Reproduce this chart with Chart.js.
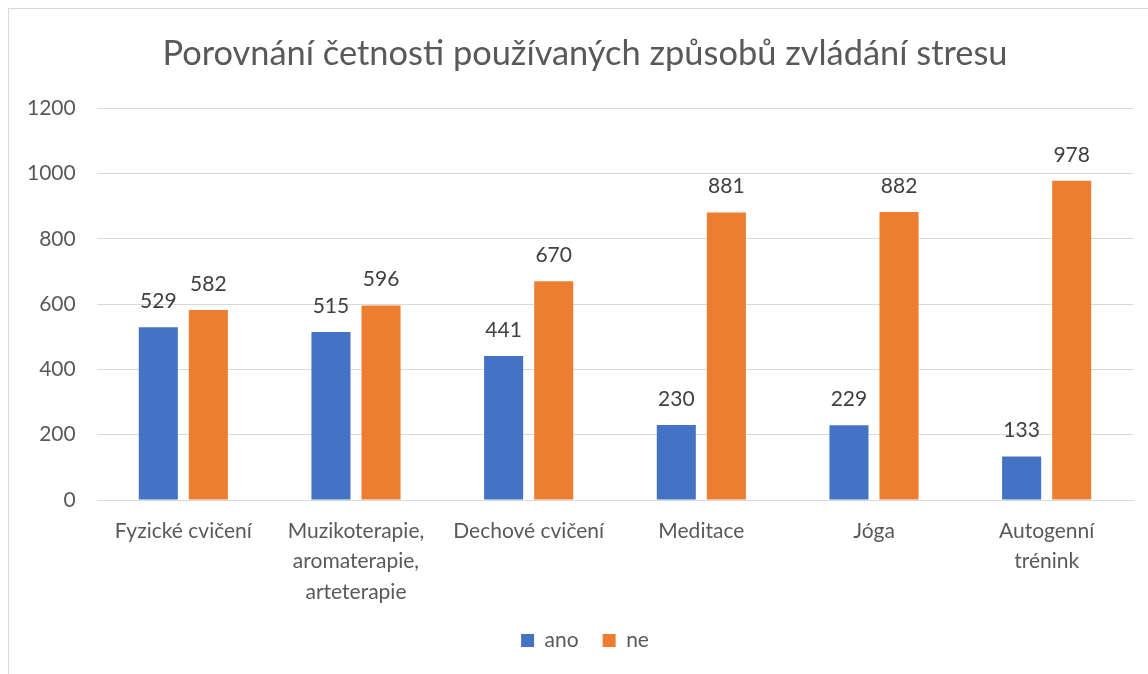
<!DOCTYPE html>
<html>
<head>
<meta charset="utf-8">
<script src="https://cdn.jsdelivr.net/npm/chart.js@4/dist/chart.umd.min.js"></script>
<style>
  html, body { margin: 0; padding: 0; background: #fff; overflow: hidden; }
  #frame {
    position: absolute; left: 8px; top: 8px; width: 1160px; height: 680px;
    border-left: 1px solid #d9d9d9; border-top: 1px solid #d9d9d9;
  }
  #wrap { position: absolute; left: 0; top: 0; width: 1154px; height: 666px; }
</style>
</head>
<body>
<div id="frame">
  <div id="wrap"><canvas id="chart"></canvas></div>
</div>
<script>
const CATEGORIES = [
  "Fyzické cvičení",
  ["Muzikoterapie,", "aromaterapie,", "arteterapie"],
  "Dechové cvičení",
  "Meditace",
  "Jóga",
  ["Autogenní", "trénink"],
];
const ANO = [529, 515, 441, 230, 229, 133];
const NE = [582, 596, 670, 881, 882, 978];
const FONT = "Lato, 'Open Sans', sans-serif";
const TEXT = "#595959";

const valueLabels = {
  id: "valueLabels",
  afterDatasetsDraw(chart) {
    const ctx = chart.ctx;
    ctx.save();
    ctx.font = "21px " + FONT;
    ctx.fillStyle = "#404040";
    ctx.textAlign = "center";
    ctx.textBaseline = "middle";
    chart.data.datasets.forEach((ds, i) => {
      const meta = chart.getDatasetMeta(i);
      meta.data.forEach((bar, j) => {
        ctx.fillText(String(ds.data[j]), bar.x, bar.y - 26);
      });
    });
    ctx.restore();
  },
};

new Chart(document.getElementById("chart"), {
  type: "bar",
  data: {
    labels: CATEGORIES,
    datasets: [
      { label: "ano", data: ANO, backgroundColor: "#4472C4" },
      { label: "ne", data: NE, backgroundColor: "#ED7D31" },
    ],
  },
  options: {
    responsive: true,
    maintainAspectRatio: false,
    animation: false,
    categoryPercentage: 0.58,
    barPercentage: 0.78,
    layout: { padding: { left: 28, right: 30, bottom: 14 } },
    scales: {
      x: {
        grid: { display: false },
        border: { display: true, color: "#d9d9d9", width: 1 },
        ticks: {
          color: TEXT,
          font: { family: FONT, size: 21, lineHeight: 1.45 },
          padding: 8,
          maxRotation: 0,
          autoSkip: false,
        },
        afterFit: (scale) => { scale.height = 106; },
      },
      y: {
        min: 0,
        max: 1200,
        grid: { color: "#d9d9d9", drawTicks: false },
        border: { display: false },
        ticks: {
          stepSize: 200,
          color: TEXT,
          // mirrored + far alignment: right edge of labels sits 22px left of the plot
          mirror: true,
          crossAlign: "far",
          padding: -70,
          font: { family: FONT, size: 21 },
          callback: (v) => String(v),
        },
        afterFit: (scale) => { scale.width = 60; },
      },
    },
    plugins: {
      title: {
        display: true,
        text: "Porovnání četnosti používaných způsobů zvládání stresu",
        color: TEXT,
        font: { family: FONT, size: 34.4, weight: "normal" },
        padding: { top: 24, bottom: 34 },
      },
      legend: {
        position: "bottom",
        labels: {
          color: TEXT,
          font: { family: FONT, size: 21 },
          boxWidth: 13,
          boxHeight: 13,
          padding: 24,
        },
      },
      tooltip: { enabled: false },
    },
  },
  plugins: [valueLabels],
});
</script>
</body>
</html>
